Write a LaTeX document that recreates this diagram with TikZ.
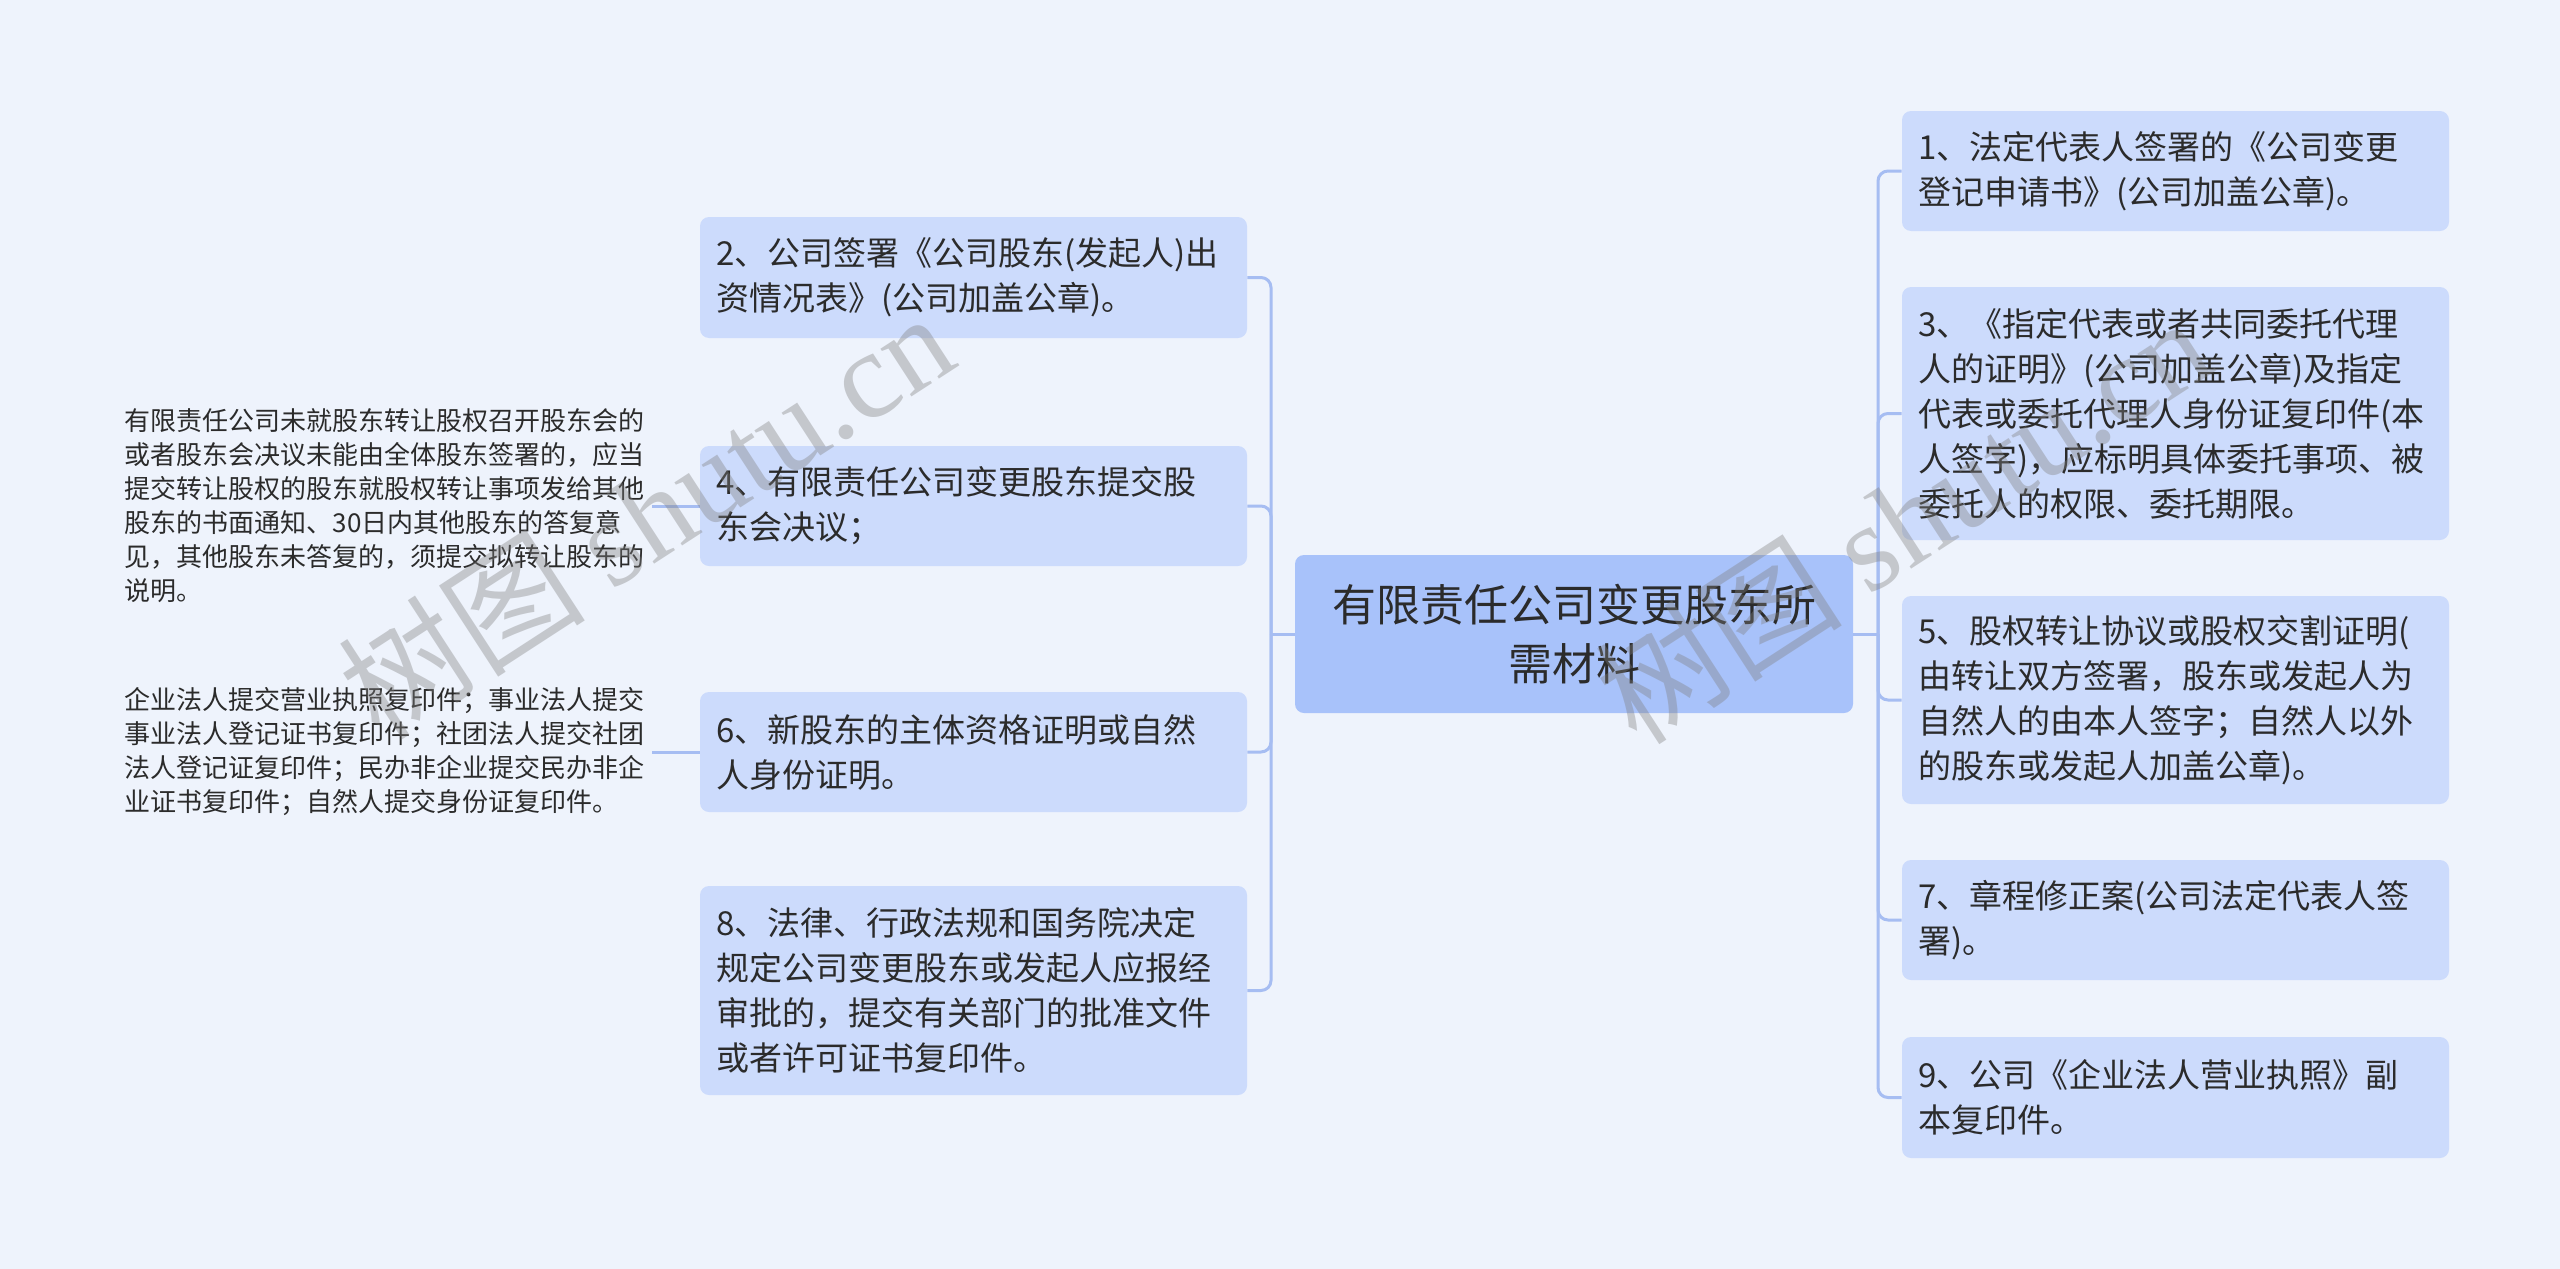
\documentclass[tikz,border=0pt]{standalone}
\usepackage{fontspec}
\setmainfont{Noto Sans CJK SC}
\newfontfamily\wmlatin{Liberation Serif}
\definecolor{bgc}{HTML}{EEF3FC}
\definecolor{nodefill}{HTML}{CCDBFC}
\definecolor{rootfill}{HTML}{A8C2FA}
\definecolor{linec}{HTML}{A6BDF2}
\definecolor{txt}{HTML}{2B2B2B}
\definecolor{wmgray}{HTML}{808080}
\tikzset{
  item/.style={fill=nodefill, rounded corners=4.5pt, text=txt,
    font=\fontsize{16.5pt}{22.5pt}\selectfont, align=left,
    text width=257.5pt, inner xsep=8pt, inner ysep=0pt, minimum height=#1},
  rootbox/.style={fill=rootfill, rounded corners=4.5pt, text=txt,
    font=\fontsize{22pt}{29.5pt}\selectfont, align=center,
    text width=263pt, inner xsep=8pt, inner ysep=0pt, minimum height=79pt},
  note/.style={text=txt, font=\fontsize{13pt}{17pt}\selectfont, align=left,
    text width=261pt, inner xsep=2.5pt, inner ysep=0pt, anchor=west},
  conn/.style={draw=linec, line width=1.5pt},
  wm/.style={text=wmgray, opacity=0.38, font=\fontsize{62pt}{62pt}\selectfont, inner sep=0pt}
}
\begin{document}
\begin{tikzpicture}[x=0.5pt, y=-0.5pt]
\useasboundingbox (0,0) rectangle (2560,1269);
\fill[bgc] (0,0) rectangle (2560,1269);

% root
\node[rootbox] (root) at (1574,634) {有限责任公司变更股东所\\需材料};

% left nodes
\node[item=60.5pt] (n2) at (973.5,277.5) {2、公司签署《公司股东(发起人)出\\资情况表》(公司加盖公章)。};
\node[item=60pt] (n4) at (973.5,506) {4、有限责任公司变更股东提交股\\东会决议；};
\node[item=60pt] (n6) at (973.5,752) {6、新股东的主体资格证明或自然\\人身份证明。};
\node[item=104.5pt] (n8) at (973.5,990.5) {8、法律、行政法规和国务院决定\\规定公司变更股东或发起人应报经\\审批的，提交有关部门的批准文件\\或者许可证书复印件。};

% right nodes
\node[item=60pt] (n1) at (2175.5,171) {1、法定代表人签署的《公司变更\\登记申请书》(公司加盖公章)。};
\node[item=126.5pt] (n3) at (2175.5,413.5) {3、《指定代表或者共同委托代理\\人的证明》(公司加盖公章)及指定\\代表或委托代理人身份证复印件(本\\人签字)，应标明具体委托事项、被\\委托人的权限、委托期限。};
\node[item=104pt] (n5) at (2175.5,700) {5、股权转让协议或股权交割证明(\\由转让双方签署，股东或发起人为\\自然人的由本人签字；自然人以外\\的股东或发起人加盖公章)。};
\node[item=60pt] (n7) at (2175.5,920) {7、章程修正案(公司法定代表人签\\署)。};
\node[item=60.5pt] (n9) at (2175.5,1097.5) {9、公司《企业法人营业执照》副\\本复印件。};

% far-left notes
\node[note] (t4) at (119.5,506) {有限责任公司未就股东转让股权召开股东会的\\或者股东会决议未能由全体股东签署的，应当\\提交转让股权的股东就股权转让事项发给其他\\股东的书面通知、30日内其他股东的答复意\\见，其他股东未答复的，须提交拟转让股东的\\说明。};
\node[note] (t6) at (119.5,752) {企业法人提交营业执照复印件；事业法人提交\\事业法人登记证书复印件；社团法人提交社团\\法人登记证复印件；民办非企业提交民办非企\\业证书复印件；自然人提交身份证复印件。};

% connectors
\coordinate (ls) at (1271,634);
\coordinate (rs) at (1878,634);
\draw[conn] (root.west) -- (ls);
\draw[conn] (root.east) -- (rs);
\foreach \n in {n2,n4,n6,n8} \draw[conn, rounded corners=5pt] (ls) |- (\n.east);
\foreach \n in {n1,n3,n5,n7,n9} \draw[conn, rounded corners=5pt] (rs) |- (\n.west);
\draw[conn] (t4.east) -- (n4.west);
\draw[conn] (t6.east) -- (n6.west);

% watermarks
\node[wm, rotate=33] (wm1) at (645,514) {树图 {\wmlatin shutu.cn}};
\node[wm, rotate=33] (wm2) at (1902,519) {树图 {\wmlatin shutu.cn}};
\end{tikzpicture}
\end{document}
